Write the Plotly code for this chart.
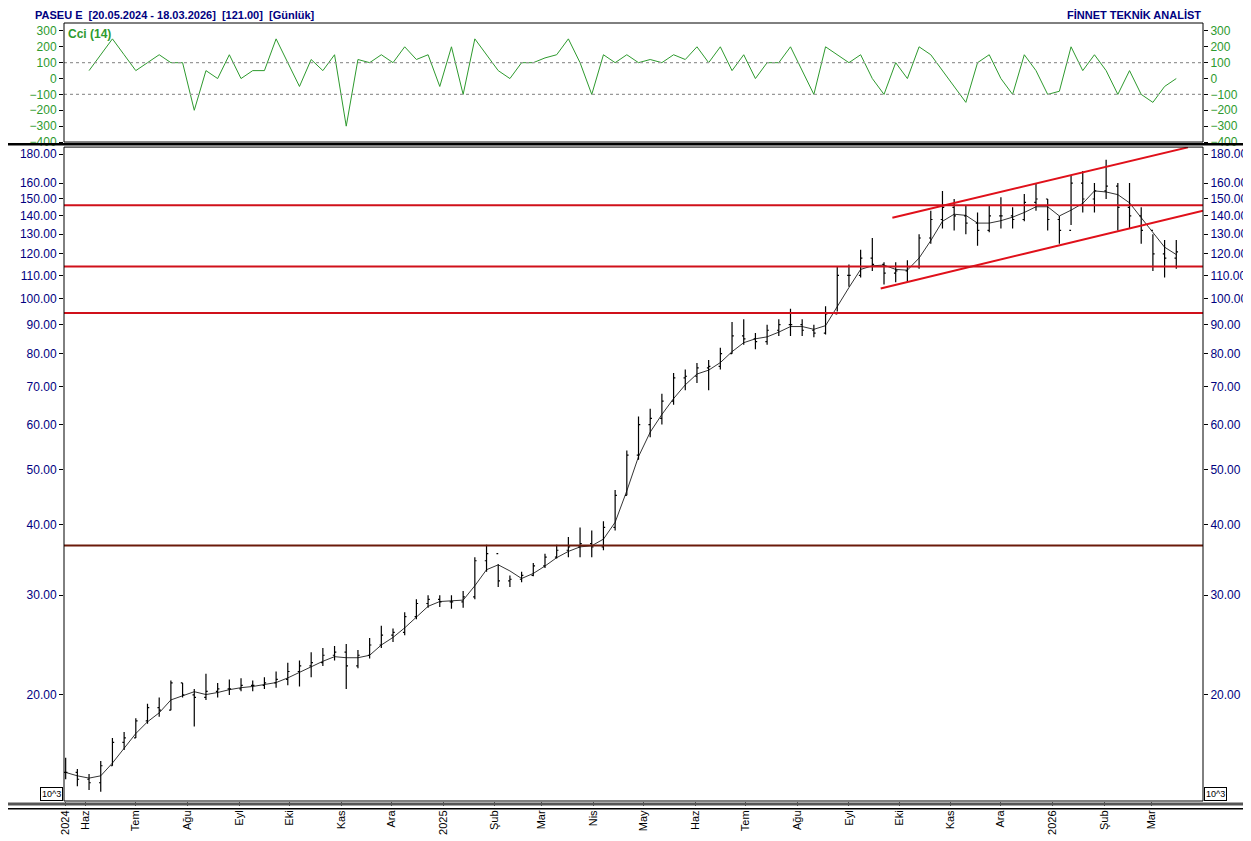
import numpy as np
import pandas as pd
import plotly.graph_objects as go

# weekly bars (week starting dates)
dates = pd.date_range("2024-05-20", periods=96, freq="7D")
highs = [15.5, 14.8, 14.5, 15.3, 16.8, 17.2, 18.2, 19.3, 19.8, 21.2, 21.0, 20.5, 21.8, 21.0, 21.3, 21.4,
         21.2, 21.5, 22.0, 22.8, 23.0, 23.8, 24.2, 24.4, 24.6, 24.0, 25.2, 26.5, 26.2, 28.0, 29.5, 30.0,
         30.0, 30.0, 30.5, 35.0, 36.8, 34.0, 32.5, 33.0, 34.2, 35.5, 36.8, 38.0, 39.5, 39.0, 40.5, 46.0,
         54.0, 62.0, 64.0, 68.0, 74.0, 75.0, 77.0, 78.0, 82.0, 91.0, 92.0, 87.0, 90.0, 92.0, 96.0, 92.0,
         90.0, 97.0, 114.0, 115.0, 122.0, 128.0, 116.0, 116.0, 117.0, 130.0, 143.0, 155.0, 150.0, 146.0, 142.0, 146.0,
         151.0, 145.0, 153.0, 160.0, 150.0, 140.0, 165.0, 168.0, 160.0, 176.0, 160.0, 160.0, 145.0, 130.0, 127.0, 127.0]
lows = [14.2, 13.8, 13.6, 13.5, 15.0, 16.0, 16.8, 17.8, 18.3, 18.8, 19.8, 17.6, 19.6, 19.8, 20.0, 20.3,
        20.3, 20.5, 20.6, 20.8, 20.7, 21.5, 22.5, 23.0, 20.5, 22.3, 23.2, 24.2, 24.8, 25.5, 27.2, 28.5,
        28.6, 28.4, 28.5, 29.5, 33.0, 31.0, 31.0, 31.6, 32.4, 33.5, 34.8, 35.0, 35.0, 35.0, 36.0, 39.0,
        45.0, 52.0, 57.0, 60.0, 65.0, 69.0, 71.0, 69.0, 75.0, 80.0, 83.0, 81.5, 83.0, 86.0, 86.0, 86.0,
        85.5, 86.5, 95.0, 105.0, 109.0, 112.0, 106.0, 107.0, 107.0, 113.0, 125.0, 133.0, 132.0, 130.0, 124.0, 131.0,
        133.0, 133.0, 137.0, 143.0, 132.0, 125.0, 135.0, 142.0, 142.0, 150.0, 132.0, 133.0, 125.0, 112.0, 109.0, 113.0]
closes = [14.6, 14.2, 14.0, 15.0, 16.5, 16.8, 18.0, 19.0, 18.8, 21.0, 20.0, 19.8, 20.3, 20.5, 20.5, 20.8,
          20.8, 21.0, 21.3, 22.0, 22.5, 22.8, 23.5, 23.8, 22.5, 23.5, 24.5, 25.5, 25.8, 27.5, 29.0, 29.5,
          29.2, 29.2, 29.8, 34.5, 35.5, 31.8, 32.0, 32.5, 33.8, 35.0, 36.0, 36.5, 37.0, 36.5, 39.5, 45.0,
          53.0, 60.0, 61.5, 66.0, 72.5, 73.0, 75.5, 76.0, 80.0, 86.0, 85.0, 84.0, 88.0, 90.0, 90.0, 88.0,
          87.0, 94.0, 110.0, 110.0, 118.0, 115.0, 111.0, 112.0, 114.0, 128.0, 138.0, 145.0, 140.0, 136.0, 132.0, 140.0,
          140.0, 138.0, 148.0, 150.0, 138.0, 132.0, 160.0, 150.0, 155.0, 158.0, 145.0, 140.0, 132.0, 120.0, 118.0, 121.0]
cci = [None, None, 50, 150, 250, 150, 50, 100, 150, 100, 100, -200, 50, 0, 150, 0,
       50, 50, 250, 100, -50, 120, 50, 150, -300, 120, 100, 150, 100, 200, 120, 150,
       -50, 200, -100, 250, 150, 50, 0, 100, 100, 130, 150, 250, 100, -100, 150, 100,
       150, 100, 120, 100, 150, 120, 200, 100, 200, 50, 150, 0, 100, 100, 200, 50,
       -100, 200, 150, 100, 150, 0, -100, 100, 0, 200, 150, 50, -50, -150, 100, 150,
       0, -100, 150, 50, -100, -80, 200, 50, 150, 50, -100, 50, -100, -150, -50, 0]

# support / resistance levels and channel lines
levels_red = [146.3, 114.0, 94.4]
level_brown = 36.7
upper_dates = ["2025-09-27", "2026-03-23"]
upper_vals = [139.0, 185.0]
lower_dates = ["2025-09-20", "2026-04-01"]
lower_vals = [104.3, 143.0]

tick_dates = ["2024-05-20", "2024-06-01", "2024-07-01", "2024-08-01", "2024-09-01", "2024-10-01",
              "2024-11-01", "2024-12-01", "2025-01-01", "2025-02-01", "2025-03-01", "2025-04-01",
              "2025-05-01", "2025-06-01", "2025-07-01", "2025-08-01", "2025-09-01", "2025-10-01",
              "2025-11-01", "2025-12-01", "2026-01-01", "2026-02-01", "2026-03-01"]
tick_text = ["2024", "Haz", "Tem", "Ağu", "Eyl", "Eki", "Kas", "Ara", "2025", "Şub", "Mar", "Nis",
             "May", "Haz", "Tem", "Ağu", "Eyl", "Eki", "Kas", "Ara", "2026", "Şub", "Mar"]
price_ticks = [20, 30, 40, 50, 60, 70, 80, 90, 100, 110, 120, 130, 140, 150, 160, 180]
cci_ticks = [300, 200, 100, 0, -100, -200, -300, -400]

opens = [closes[0]] + closes[:-1]
ma = pd.Series(closes).rolling(3, min_periods=1).mean()

NAVY = "#00007f"
GREEN = "#2e9a2e"
FONT = "Arial"
xr = ["2024-05-19", "2026-04-01"]
yr = [np.log10(13.0), np.log10(185.2)]

fig = go.Figure()
fig.add_trace(go.Ohlc(x=dates, open=opens, high=highs, low=lows, close=closes,
                      increasing_line_color="black", decreasing_line_color="black",
                      line_width=1.2, tickwidth=0.15, xaxis="x", yaxis="y"))
fig.add_trace(go.Scatter(x=dates, y=ma, mode="lines", line=dict(color="black", width=0.8),
                         xaxis="x", yaxis="y"))
fig.add_trace(go.Scatter(x=upper_dates, y=upper_vals, mode="lines", line=dict(color="#e0101a", width=2),
                         xaxis="x", yaxis="y"))
fig.add_trace(go.Scatter(x=lower_dates, y=lower_vals, mode="lines", line=dict(color="#e0101a", width=2),
                         xaxis="x", yaxis="y"))
fig.add_trace(go.Scatter(x=dates, y=cci, mode="lines", line=dict(color=GREEN, width=1),
                         xaxis="x", yaxis="y2"))

for lv in levels_red:
    fig.add_shape(type="line", xref="x domain", yref="y", x0=0, x1=1, y0=lv, y1=lv,
                  line=dict(color="#d0101a", width=2))
fig.add_shape(type="line", xref="x domain", yref="y", x0=0, x1=1, y0=level_brown, y1=level_brown,
              line=dict(color="#6b1a0a", width=2))
for lv in [100, -100]:
    fig.add_shape(type="line", xref="x domain", yref="y2", x0=0, x1=1, y0=lv, y1=lv,
                  line=dict(color="#999999", width=1.2, dash="dot"))

# panel frames / separators
fig.add_shape(type="rect", xref="paper", yref="paper", x0=0, x1=1, y0=0, y1=0.8405,
              line=dict(color="black", width=1))
fig.add_shape(type="rect", xref="paper", yref="paper", x0=0, x1=1, y0=0.847, y1=1.0,
              line=dict(color="black", width=1))
fig.add_shape(type="line", xref="paper", yref="paper", x0=-0.06, x1=1.05, y0=0.844, y1=0.844,
              line=dict(color="black", width=2.5))
fig.add_shape(type="line", xref="paper", yref="paper", x0=-0.06, x1=1.05, y0=-0.004, y1=-0.004,
              line=dict(color="#555555", width=3))
fig.add_shape(type="line", xref="paper", yref="paper", x0=-0.06, x1=1.05, y0=-0.010, y1=-0.010,
              line=dict(color="black", width=1.5))

tick_font = dict(family=FONT, size=12, color=NAVY)
common_y = dict(showgrid=False, zeroline=False, ticks="outside", ticklen=4, tickcolor="black",
                showline=False)
fig.update_layout(
    width=1251, height=841, paper_bgcolor="white", plot_bgcolor="white", showlegend=False,
    margin=dict(l=56, r=51, t=15, b=48),
    xaxis=dict(type="date", range=xr, tickvals=tick_dates, ticktext=tick_text, tickangle=-90,
               tickfont=dict(family=FONT, size=11, color="black"), showgrid=False, ticks="outside",
               ticklen=4, rangeslider=dict(visible=False), anchor="y"),
    yaxis=dict(domain=[0, 0.8405], type="log", range=yr, tickvals=price_ticks,
               ticktext=[f"{v:.2f}" for v in price_ticks], tickfont=tick_font, **common_y),
    yaxis3=dict(overlaying="y", side="right", type="log", range=yr, tickvals=price_ticks,
                ticktext=[f"{v:.2f}" for v in price_ticks], tickfont=tick_font, **common_y),
    yaxis2=dict(domain=[0.847, 1.0], range=[-400, 350], tickvals=cci_ticks,
                tickfont=dict(family=FONT, size=12, color=GREEN), **common_y),
    yaxis4=dict(overlaying="y2", side="right", range=[-400, 350], tickvals=cci_ticks,
                tickfont=dict(family=FONT, size=12, color=GREEN), **common_y),
)
# dummy traces so the right-hand axes render
fig.add_trace(go.Scatter(x=[dates[0]], y=[100], yaxis="y3", mode="markers", marker=dict(opacity=0)))
fig.add_trace(go.Scatter(x=[dates[0]], y=[0], yaxis="y4", mode="markers", marker=dict(opacity=0)))

fig.add_annotation(text="<b>PASEU E  [20.05.2024 - 18.03.2026]  [121.00]  [Günlük]</b>",
                   xref="paper", yref="paper", x=-0.027, y=1.0, yanchor="bottom", xanchor="left",
                   yshift=0, showarrow=False, font=dict(family=FONT, size=11, color=NAVY))
fig.add_annotation(text="<b>FİNNET TEKNİK ANALİST</b>", xref="paper", yref="paper", x=1.0,
                   y=1.0, yanchor="bottom", xanchor="right", yshift=0, showarrow=False,
                   font=dict(family=FONT, size=11, color=NAVY))
fig.add_annotation(text="<b>Cci (14)</b>", xref="paper", yref="paper", x=0.002, y=0.998,
                   xanchor="left", yanchor="top", showarrow=False,
                   font=dict(family=FONT, size=12, color=GREEN))
for xa, anc in [(-0.001, "right"), (1.001, "left")]:
    fig.add_annotation(text="10^3", xref="paper", yref="paper", x=xa, y=0.0, xanchor=anc,
                       yanchor="bottom", showarrow=False, bordercolor="black", borderwidth=1,
                       borderpad=1, font=dict(family=FONT, size=9, color="black"))

fig.write_html("out.html")
